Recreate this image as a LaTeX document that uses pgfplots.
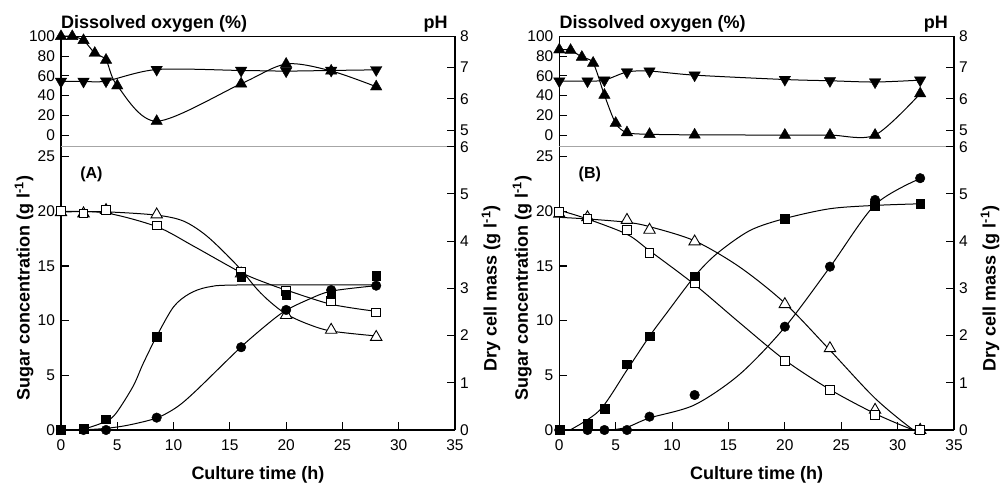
\documentclass[border=0pt]{standalone}
\usepackage{fontspec}
\setmainfont{Liberation Sans}
\usepackage{pgfplots}
\pgfplotsset{compat=1.18}
\newcommand\tkfont{\fontsize{15.5}{16}\selectfont}
\newcommand\lbfont{\bfseries\fontsize{18}{20}\selectfont}
\pgfplotsset{
  base/.style={scale only axis, xmin=0, xmax=35, clip=false,
    tick align=inside, major tick length=8pt,
    axis line style={line width=1.1pt},
    every tick/.style={line width=1.1pt, black},
    /pgf/number format/assume math mode=true,
    tick label style={font=\tkfont},
    xticklabel style={yshift=-6pt},
  },
  crv/.style={smooth, line width=1pt, black, no markers},
  fsq/.style={only marks, mark=square*, mark size=4.4pt, black},
  circ/.style={only marks, mark=*, mark size=4.8pt, black},
  osq/.style={only marks, mark=square*, mark size=4.4pt, black, mark options={fill=white, line width=0.9pt}},
  otri/.style={only marks, mark=triangle*, mark size=6.6pt, black, mark options={fill=white, line width=0.9pt}},
  ftri/.style={only marks, mark=triangle*, mark size=6.6pt, black},
  dtri/.style={only marks, mark=triangle*, mark size=6.6pt, black, mark options={rotate=180}},
}
\begin{document}
\begin{tikzpicture}
\useasboundingbox (0,0) rectangle (1001pt,483pt);
% ================= Panel A =================
% top: dissolved oxygen
\begin{axis}[base, at={(61pt,336.3pt)}, anchor=south west, width=394pt, height=110.3pt,
  ymin=-11.8, ymax=100, axis x line*=top, axis y line*=left, xtick=\empty,
  ytick={0,20,...,100}, yticklabel style={xshift=-2.5pt}]
\addplot[crv] coordinates {(0,100) (1,100) (2,96) (3,83) (4,76) (5,50) (8.5,14) (16,52) (20,72) (24,65) (28,49)};
\addplot[ftri] coordinates {(0,100) (1,100) (2,96) (3,83) (4,76) (5,50) (8.5,14) (16,52) (20,72) (24,65) (28,49)};
\draw[gray!70, line width=0.8pt] (rel axis cs:0,0) -- (rel axis cs:1,0);
\node[anchor=base west, inner sep=0, font=\lbfont] at (axis description cs:0,1.0725) {Dissolved oxygen (\%)};
\node[anchor=base east, inner sep=0, font=\lbfont] at (axis description cs:0.982,1.0725) {pH};
\end{axis}
% top: pH
\begin{axis}[base, at={(61pt,336.3pt)}, anchor=south west, width=394pt, height=110.3pt,
  ymin=4.47, ymax=8, axis x line=none, axis y line*=right, ytick={5,6,7,8}, yticklabel style={xshift=1.5pt}]
\addplot[crv] coordinates {(0,6.56) (2,6.56) (4,6.57) (8.5,6.94) (16,6.91) (20,6.89) (24,6.91) (28,6.93)};
\addplot[dtri] coordinates {(0,6.56) (2,6.56) (4,6.57) (8.5,6.94) (16,6.91) (20,6.89) (24,6.91) (28,6.93)};
\end{axis}
% bottom: sugar
\begin{axis}[base, at={(61pt,53pt)}, anchor=south west, width=394pt, height=283.3pt,
  ymin=0, ymax=25.91, axis x line*=bottom, axis y line*=left,
  xtick={0,5,...,35}, ytick={0,5,...,25}, yticklabel style={xshift=-2.5pt},
  xlabel={Culture time (h)}, xlabel style={at={(axis description cs:0.5,-0.173)}, anchor=base, font=\lbfont},
  ylabel={Sugar concentration (g l\textsuperscript{-1})}, ylabel style={at={(axis description cs:-0.094,0.5)}, anchor=center, font=\lbfont}]
\addplot[crv] coordinates {(0,19.95) (4,19.95) (8.5,19.65) (10.9,19.1) (13,17.7) (15.6,15.1) (17.4,12.9) (18.6,11.7) (20,10.6) (21.9,9.7) (24,9.05) (28,8.6)};
\addplot[crv] coordinates {(0,20.0) (4,19.85) (8.5,18.6) (11.8,16.8) (16,14.4) (18.6,13.3) (20,12.8) (24,11.5) (28,10.85)};
\addplot[crv] coordinates {(0,0) (2,0.02) (4,0.15) (6,0.45) (8.5,1.1) (10.3,2.1) (12,3.6) (16,7.6) (18.6,9.9) (20,10.95) (21.9,11.9) (24,12.7) (28,13.2)};
\addplot[otri] coordinates {(0,19.9) (2,19.8) (4,20.1) (8.5,19.7) (16,14.3) (20,10.5) (24,9.15) (28,8.5)};
\addplot[osq] coordinates {(0,20.0) (2,19.8) (4,20.1) (8.5,18.7) (16,14.5) (20,12.75) (24,11.8) (28,10.75)};
\addplot[circ] coordinates {(0,0) (2,0) (4,0) (8.5,1.13) (16,7.57) (20,10.98) (24,12.8) (28,13.2)};
\node[anchor=west, inner sep=0, font=\bfseries\fontsize{16}{17}\selectfont] at (axis cs:1.7,23.4) {(A)};
\end{axis}
% bottom: dry cell mass
\begin{axis}[base, at={(61pt,53pt)}, anchor=south west, width=394pt, height=283.3pt,
  ymin=0, ymax=6, axis x line=none, axis y line*=right, ytick={0,...,6}, yticklabel style={xshift=1.5pt},
  ylabel={Dry cell mass (g l\textsuperscript{-1})}, ylabel style={at={(axis description cs:1.0914,0.5)}, anchor=center, font=\lbfont}]
\addplot[crv] coordinates {(0,0) (2,0.023) (4,0.185) (4.9,0.358) (6.4,0.924) (7.3,1.408) (8.5,1.986) (10,2.609) (11.4,2.886) (13,3.025) (15.6,3.071) (28,3.071)};
\addplot[fsq] coordinates {(0,0) (2,0.035) (4,0.23) (8.5,1.97) (16,3.24) (20,2.87) (24,2.89) (28,3.27)};
\end{axis}
% ================= Panel B =================
\begin{axis}[base, at={(559.3pt,336.3pt)}, anchor=south west, width=394.7pt, height=110.3pt,
  ymin=-11.8, ymax=100, axis x line*=top, axis y line*=left, xtick=\empty,
  ytick={0,20,...,100}, yticklabel style={xshift=-2.5pt}]
\addplot[crv] coordinates {(0,86.5) (1,86) (2,79) (3,73) (4,40.5) (5,12) (6,2.5) (8,0.8) (12,0.2) (20,0) (24,0) (28,0) (32,42)};
\addplot[ftri] coordinates {(0,86.5) (1,86) (2,79) (3,73) (4,40.5) (5,12) (6,2.5) (8,0.8) (12,0.2) (20,0) (24,0) (28,0) (32,42)};
\draw[gray!70, line width=0.8pt] (rel axis cs:0,0) -- (rel axis cs:1,0);
\node[anchor=base west, inner sep=0, font=\lbfont] at (axis description cs:0,1.0725) {Dissolved oxygen (\%)};
\node[anchor=base east, inner sep=0, font=\lbfont] at (axis description cs:0.985,1.0725) {pH};
\end{axis}
\begin{axis}[base, at={(559.3pt,336.3pt)}, anchor=south west, width=394.7pt, height=110.3pt,
  ymin=4.47, ymax=8, axis x line=none, axis y line*=right, ytick={5,6,7,8}, yticklabel style={xshift=1.5pt}]
\addplot[crv] coordinates {(0,6.57) (2.5,6.57) (4,6.6) (6,6.86) (8,6.89) (12,6.76) (20,6.62) (24,6.58) (28,6.54) (32,6.6)};
\addplot[dtri] coordinates {(0,6.57) (2.5,6.57) (4,6.6) (6,6.86) (8,6.89) (12,6.76) (20,6.62) (24,6.58) (28,6.54) (32,6.6)};
\end{axis}
\begin{axis}[base, at={(559.3pt,53pt)}, anchor=south west, width=394.7pt, height=283.3pt,
  ymin=0, ymax=25.91, axis x line*=bottom, axis y line*=left,
  xtick={0,5,...,35}, ytick={0,5,...,25}, yticklabel style={xshift=-2.5pt},
  xlabel={Culture time (h)}, xlabel style={at={(axis description cs:0.5,-0.173)}, anchor=base, font=\lbfont},
  ylabel={Sugar concentration (g l\textsuperscript{-1})}, ylabel style={at={(axis description cs:-0.094,0.5)}, anchor=center, font=\lbfont}]
\addplot[crv] coordinates {(0,19.45) (2.5,19.3) (6,19.0) (8,18.6) (12,17.3) (16,14.9) (20,11.6) (24,7.3) (28,2.9) (31.4,0) (32,0)};
\addplot[crv] coordinates {(0,20.1) (2.5,19.3) (6,17.9) (8,16.4) (12,13.3) (16,9.8) (20,6.4) (24,3.7) (28,1.5) (31.4,0) (32,0)};
\addplot[crv] coordinates {(4.5,0) (6,0.25) (8,1.1) (12,2.3) (16,5.1) (20,9.4) (24,14.9) (28,20.6) (32,23.0)};
\addplot[otri] coordinates {(0,19.76) (2.5,19.45) (6,19.2) (8,18.3) (12,17.23) (20,11.5) (24,7.47) (28,1.83) (32,0)};
\addplot[osq] coordinates {(0,19.97) (2.5,19.27) (6,18.3) (8,16.16) (12,13.42) (20,6.34) (24,3.66) (28,1.37) (32,0)};
\addplot[circ] coordinates {(0,0) (2.5,0) (4,0) (6,0) (8,1.22) (12,3.2) (20,9.45) (24,14.94) (28,21.04) (32,23.03)};
\node[anchor=west, inner sep=0, font=\bfseries\fontsize{16}{17}\selectfont] at (axis cs:1.7,23.4) {(B)};
\end{axis}
\begin{axis}[base, at={(559.3pt,53pt)}, anchor=south west, width=394.7pt, height=283.3pt,
  ymin=0, ymax=6, axis x line=none, axis y line*=right, ytick={0,...,6}, yticklabel style={xshift=1.5pt},
  ylabel={Dry cell mass (g l\textsuperscript{-1})}, ylabel style={at={(axis description cs:1.0914,0.5)}, anchor=center, font=\lbfont}]
\addplot[crv] coordinates {(0.95,0) (3.6,0.423) (6,1.27) (8,1.986) (9.5,2.471) (12,3.256) (14,3.741) (16.9,4.225) (20,4.479) (24,4.687) (28,4.757) (32,4.791)};
\addplot[fsq] coordinates {(0,0) (2.5,0.141) (4,0.457) (6,1.395) (8,1.986) (12,3.256) (20,4.472) (28,4.757) (32,4.789)};
\end{axis}
\end{tikzpicture}
\end{document}
